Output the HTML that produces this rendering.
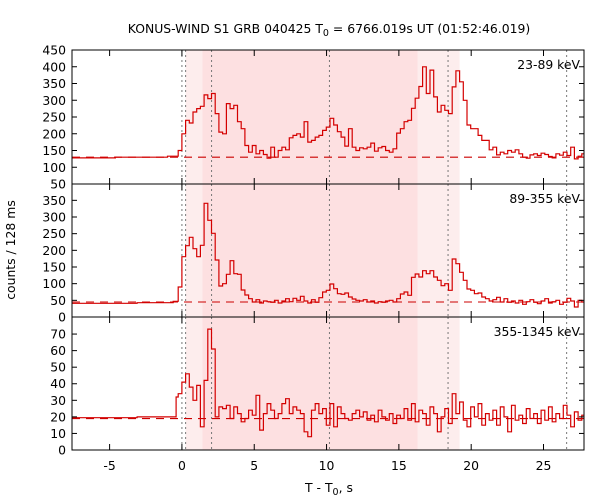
<!DOCTYPE html>
<html><head><meta charset="utf-8"><style>
body{margin:0;background:#fff}
svg{display:block;font-family:"DejaVu Sans","Liberation Sans",sans-serif}
</style></head><body>
<svg id="chart" width="600" height="500" viewBox="0 0 600 500" xmlns="http://www.w3.org/2000/svg">
<text x="329" y="33" font-size="12.4" text-anchor="middle">KONUS-WIND S1 GRB 040425 T<tspan font-size="9.5" dy="3">0</tspan><tspan dy="-3"> = 6766.019s UT (01:52:46.019)</tspan></text>
<text x="0" y="0" font-size="12.4" text-anchor="middle" transform="translate(15,250) rotate(-90)">counts / 128 ms</text>
<text x="329" y="492" font-size="12.4" text-anchor="middle">T - T<tspan font-size="9.5" dy="3">0</tspan><tspan dy="-3">, s</tspan></text>
<g id="layer"></g>
</svg>
<script>
const binStart = -0.256, binWidth = 0.256;
const xTicks = [-5, 0, 5, 10, 15, 20, 25];
const shadeLight = [[0.256, 1.42], [16.3, 19.2]];
const shadeDark = [[1.42, 16.3]];
const markerTimes = [0.0, 0.256, 2.05, 10.2, 18.4, 26.6];
const panelLabels = ["23-89 keV", "89-355 keV", "355-1345 keV"];
const p1PreTimes = [-7.6, -4.6, -1.0];
const p1PreVals = [128, 130, 133];
const p1Vals = [150,200,240,232,265,275,282,316,305,320,260,205,200,290,275,285,236,215,165,145,165,140,150,138,127,160,130,150,160,152,188,195,200,190,236,175,180,190,195,210,220,246,226,206,190,163,215,160,150,158,155,160,172,148,158,162,150,145,155,202,215,236,240,276,306,341,400,320,390,310,265,285,270,260,340,388,355,300,226,215,215,195,180,180,152,160,137,145,140,150,145,152,140,130,127,137,140,135,142,138,132,128,140,136,145,135,160,125,133,140];
const p2PreTimes = [-7.6, -3.1, -0.6];
const p2PreVals = [41, 43, 47];
const p2Vals = [90,181,214,239,205,181,215,341,290,251,171,93,100,128,169,130,128,81,66,55,45,52,42,48,46,44,50,42,48,55,46,56,50,62,48,42,52,44,58,75,80,99,85,70,68,72,60,54,50,48,52,45,48,42,46,44,48,50,45,55,69,75,65,119,129,120,139,130,139,120,110,94,100,80,174,160,134,110,84,80,70,72,60,55,48,52,59,45,55,44,48,42,50,38,46,52,44,40,48,55,42,46,50,38,44,56,48,30,50,45];
const p3PreTimes = [-7.6, -3.1, -0.4];
const p3PreVals = [19.5, 20, 32];
const p3Vals = [34,41,46,38,30,39,14,42,73,61,20,26,25,27,19,26,22,17,19,24,21,33,12,22,28,24,19,22,28,31,22,26,24,22,11,8,24,28,22,25,15,28,14,26,22,19,18,22,24,20,23,18,21,17,24,20,18,22,16,21,19,25,18,28,17,24,22,15,26,22,11,20,25,16,34,22,29,18,14,26,20,28,15,22,18,24,15,26,20,11,27,18,21,16,25,19,22,16,24,18,26,17,22,19,27,21,14,23,18,21];
const bgLevels = [130, 45, 19];
const yTicks1 = [50,100,150,200,250,300,350,400,450];
const yTicks2 = [0,50,100,150,200,250,300,350];
const yTicks3 = [0,10,20,30,40,50,60,70];

const NS = "http://www.w3.org/2000/svg";
const layer = document.getElementById('layer');
const X0 = 72, X1 = 584, XMIN = -7.6, XMAX = 27.8;
const xs = t => X0 + (t - XMIN) / (XMAX - XMIN) * (X1 - X0);
function mk(tag, attrs, parent) {
  const e = document.createElementNS(NS, tag);
  for (const k in attrs) e.setAttribute(k, attrs[k]);
  (parent || layer).appendChild(e);
  return e;
}
const panels = [
  {top: 50, bot: 184, vmin: 50, vmax: 450, pre: [p1PreTimes, p1PreVals], vals: p1Vals, ticks: yTicks1, lab: panelLabels[0], bg: bgLevels[0]},
  {top: 184, bot: 317, vmin: 0, vmax: 399, pre: [p2PreTimes, p2PreVals], vals: p2Vals, ticks: yTicks2, lab: panelLabels[1], bg: bgLevels[1]},
  {top: 317, bot: 450, vmin: 0, vmax: 80.3, pre: [p3PreTimes, p3PreVals], vals: p3Vals, ticks: yTicks3, lab: panelLabels[2], bg: bgLevels[2]}
];
panels.forEach((p, i) => {
  const ys = v => p.bot - (v - p.vmin) / (p.vmax - p.vmin) * (p.bot - p.top);
  const g = mk('g', {});
  
  
  const cid = 'clip' + i;
  const cp = mk('clipPath', {id: cid}, g);
  mk('rect', {x: X0, y: p.top, width: X1 - X0, height: p.bot - p.top}, cp);
  shadeLight.forEach(s => {
    const r = mk('rect', {x: xs(s[0]), y: p.top, width: xs(s[1]) - xs(s[0]), height: p.bot - p.top, fill: '#fdeded'}, g);
    
    
  });
  shadeDark.forEach(s => {
    const r = mk('rect', {x: xs(s[0]), y: p.top, width: xs(s[1]) - xs(s[0]), height: p.bot - p.top, fill: '#fde0e1'}, g);
    
    
  });
  markerTimes.forEach(t => {
    const l = mk('line', {x1: xs(t), x2: xs(t), y1: p.top, y2: p.bot, stroke: '#777', 'stroke-width': 1, 'stroke-dasharray': '2,3'}, g);
    
    
  });
  const bl = mk('line', {x1: X0, x2: X1, y1: ys(p.bg), y2: ys(p.bg), stroke: '#cc0000', 'stroke-width': 1.1, 'stroke-dasharray': '8,6'}, g);
  
  
  let d = '';
  const pt = p.pre[0], pv = p.pre[1];
  for (let k = 0; k < pt.length; k++) {
    const t0 = pt[k], t1 = (k + 1 < pt.length) ? pt[k + 1] : binStart;
    d += (k === 0 ? 'M' : 'L') + xs(t0).toFixed(1) + ',' + ys(pv[k]).toFixed(1) + 'L' + xs(t1).toFixed(1) + ',' + ys(pv[k]).toFixed(1);
  }
  p.vals.forEach((v, k) => {
    const t0 = binStart + k * binWidth, t1 = t0 + binWidth;
    d += 'L' + xs(t0).toFixed(1) + ',' + ys(v).toFixed(1) + 'L' + xs(t1).toFixed(1) + ',' + ys(v).toFixed(1);
  });
  const h = mk('path', {d: d, fill: 'none', stroke: '#d40000', 'stroke-width': 1.2, 'clip-path': 'url(#' + cid + ')'}, g);
  
  
  const fr = mk('rect', {x: X0, y: p.top, width: X1 - X0, height: p.bot - p.top, fill: 'none', stroke: '#000', 'stroke-width': 1}, g);
  
  
  p.ticks.forEach(v => {
    const y = ys(v);
    mk('line', {x1: X0, x2: X0 + 5, y1: y, y2: y, stroke: '#000'}, g);
    mk('line', {x1: X1, x2: X1 - 5, y1: y, y2: y, stroke: '#000'}, g);
    const tl = mk('text', {x: X0 - 6, y: y + 4.5, 'font-size': 12.4, 'text-anchor': 'end'}, g);
    tl.textContent = v;
    
    
  });
  xTicks.forEach(t => {
    const x = xs(t);
    mk('line', {x1: x, x2: x, y1: p.bot, y2: p.bot - 6, stroke: '#000'}, g);
    mk('line', {x1: x, x2: x, y1: p.top, y2: p.top + 6, stroke: '#000'}, g);
    if (i === 2) {
      const xl = mk('text', {x: x, y: 470, 'font-size': 12.4, 'text-anchor': 'middle'}, g);
      xl.textContent = t;
      
      
    }
  });
  const pl = mk('text', {x: 580, y: p.top + 19, 'font-size': 12.4, 'text-anchor': 'end'}, g);
  pl.textContent = p.lab;
  
  
});
</script>
</body></html>
